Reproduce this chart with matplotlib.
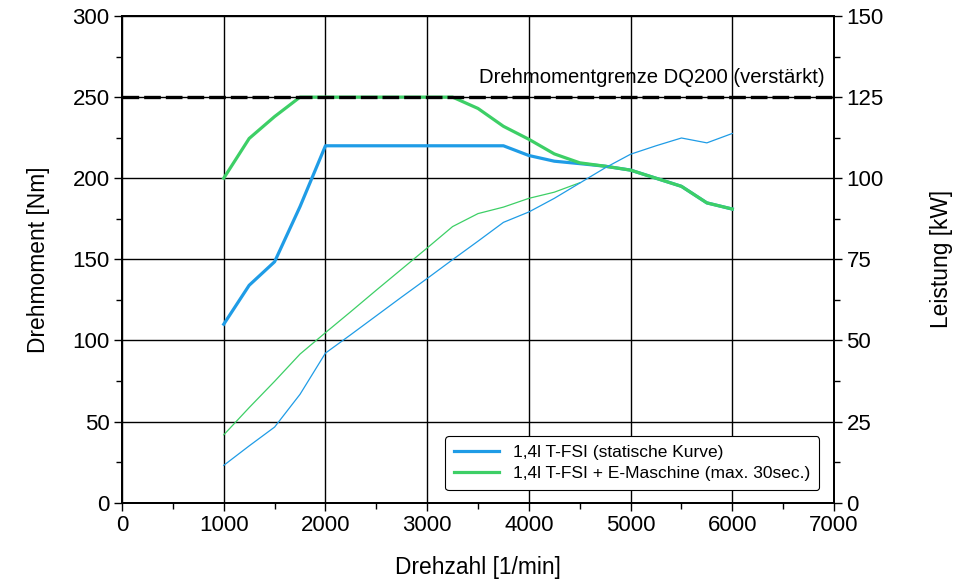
import matplotlib
matplotlib.use("Agg")
import matplotlib.pyplot as plt
from matplotlib.ticker import MultipleLocator

plt.rcParams['font.family'] = ['Liberation Sans', 'DejaVu Sans']

rpm = [1000, 1250, 1500, 1750, 2000, 2250, 2500, 2750, 3000, 3250, 3500,
       3750, 4000, 4250, 4500, 4750, 5000, 5250, 5500, 5750, 6000]

torque_tfsi = [110, 134, 148.5, 182.5, 220, 220, 220, 220, 220, 220, 220,
               220, 214, 210.5, 209, 207.4, 205, 200, 195, 184.8, 181]
torque_hybrid = [200, 224.5, 238, 250, 250, 250, 250, 250, 250, 250, 243,
                 232, 224, 215, 209.5, 207.4, 205, 200, 195, 184.8, 181]

power_tfsi = [11.5, 17.5, 23.3, 33.4, 46.1, 51.8, 57.6, 63.4, 69.1, 74.9, 80.6,
              86.4, 89.6, 93.8, 98.5, 103.2, 107.4, 110.0, 112.4, 110.9, 113.8]
rpm_hybrid_power = [1000, 1250, 1500, 1750, 2000, 2250, 2500, 2750, 3000, 3250,
                    3500, 3750, 4000, 4250, 4500]
power_hybrid = [20.9, 29.3, 37.4, 45.8, 52.4, 58.9, 65.5, 72.0, 78.5, 85.1, 89.1,
                91.1, 93.8, 95.7, 98.6]

limit_torque = 250
limit_label = "Drehmomentgrenze DQ200 (verstärkt)"
legend_labels = ["1,4l T-FSI (statische Kurve)", "1,4l T-FSI + E-Maschine (max. 30sec.)"]

blue = (0.12, 0.61, 0.90)
green = (0.24, 0.81, 0.40)

fig = plt.figure(figsize=(9.7, 5.82), dpi=100)
ax = fig.add_axes([0.1258, 0.1363, 0.734, 0.8362])
ax2 = ax.twinx()

ax.set_xlim(0, 7000)
ax.set_ylim(0, 300)
ax2.set_ylim(0, 150)

ax.grid(True, which='major', color='black', linewidth=1.0)
ax.set_axisbelow(True)

l1, = ax.plot(rpm, torque_tfsi, color=blue, linewidth=2.3, zorder=3)
l2, = ax.plot(rpm, torque_hybrid, color=green, linewidth=2.3, zorder=4)
ax.axhline(limit_torque, color='black', linewidth=2.4, linestyle=(0, (5, 1.5)), zorder=5)
ax.text(6910, 262, limit_label, ha='right', va='center', fontsize=14.6)

ax2.plot(rpm, power_tfsi, color=blue, linewidth=0.9, zorder=3)
ax2.plot(rpm_hybrid_power, power_hybrid, color=green, linewidth=0.9, zorder=2)

ax.xaxis.set_major_locator(MultipleLocator(1000))
ax.xaxis.set_minor_locator(MultipleLocator(500))
ax.yaxis.set_major_locator(MultipleLocator(50))
ax.yaxis.set_minor_locator(MultipleLocator(25))
ax2.yaxis.set_major_locator(MultipleLocator(25))
ax2.yaxis.set_minor_locator(MultipleLocator(12.5))

for a in (ax, ax2):
    a.tick_params(which='major', direction='out', length=6, width=1.0, labelsize=16, pad=3)
    a.tick_params(which='minor', direction='out', length=4, width=1.0)
    for s in a.spines.values():
        s.set_linewidth(1.3)
        s.set_color('black')

ax.set_xlabel("Drehzahl [1/min]", fontsize=16.4, labelpad=14)
ax.set_ylabel("Drehmoment [Nm]", fontsize=16.4, labelpad=16)
ax2.set_ylabel("Leistung [kW]", fontsize=16.4, labelpad=33, rotation=90)

leg = ax.legend([l1, l2], legend_labels, loc='lower right', bbox_to_anchor=(0.979, 0.026),
                fontsize=12.5, frameon=True, fancybox=True, framealpha=1,
                edgecolor='black', handlelength=2.6, handletextpad=0.8,
                borderpad=0.5, labelspacing=0.35, borderaxespad=0)
leg.get_frame().set_linewidth(0.8)
leg.set_zorder(10)

fig.savefig("out.png", dpi=100)
